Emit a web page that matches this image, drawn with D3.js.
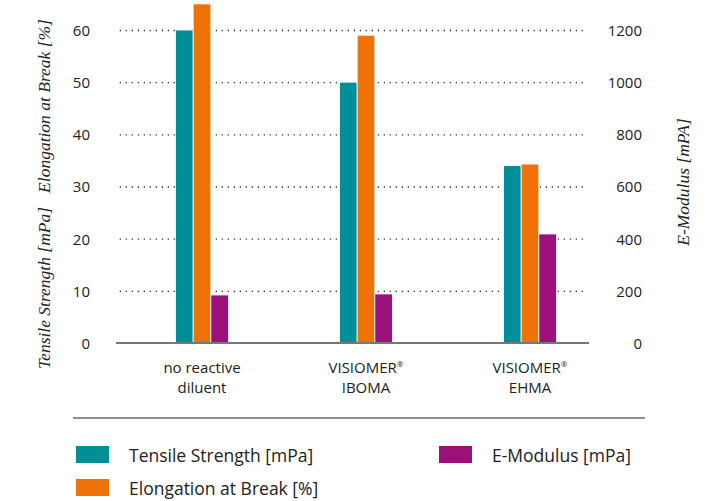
<!DOCTYPE html>
<html>
<head>
<meta charset="utf-8">
<script src="https://cdn.jsdelivr.net/npm/d3@7"></script>
<style>
  body { margin: 0; background: #fff; }
  svg { display: block; }
  .tick text { fill: #222; }
</style>
</head>
<body>
<div id="chart"></div>
<script>
// data
var categories = ["no reactive diluent", "VISIOMER IBOMA", "VISIOMER EHMA"]
var catLines = [["no reactive", "diluent"], ["VISIOMER®", "IBOMA"], ["VISIOMER®", "EHMA"]]
var tensile = [60, 50, 34]
var elongation = [65, 59, 34.3]
var eModulus = [184, 188, 418]
var leftTicks = [0, 10, 20, 30, 40, 50, 60]
var rightTicks = [0, 200, 400, 600, 800, 1000, 1200]

var seriesNames = ["Tensile Strength [mPa]", "Elongation at Break [%]", "E-Modulus [mPa]"]
var seriesColors = ["#008f99", "#ee7208", "#9b1179"]

var width = 710
var height = 501

var svg = d3.select('#chart').append('svg')
  .attr('width', width)
  .attr('height', height)

var sans = "'Open Sans', 'Noto Sans', sans-serif"
var serif = "'Liberation Serif', 'DejaVu Serif', serif"

var yLeft = d3.scaleLinear().domain([0, 60]).range([343, 30])
var yRight = d3.scaleLinear().domain([0, 1200]).range([343, 30])

var x0 = d3.scaleBand().domain(categories).range([120, 612])
var x1 = d3.scaleBand().domain([0, 1, 2]).range([0, 53])
var groupOffset = (x0.bandwidth() - 53) / 2

// dotted gridlines
svg.append('g')
  .attr('transform', 'translate(583,0)')
  .call(d3.axisLeft(yLeft).tickValues(leftTicks.slice(1)).tickSize(464).tickFormat(''))
  .call(g => g.select('.domain').remove())
  .selectAll('.tick line')
    .attr('stroke', '#333')
    .attr('stroke-width', 1.3)
    .attr('stroke-dasharray', '1.3,4.7')

// left ticks
svg.append('g')
  .attr('transform', 'translate(90,0)')
  .call(d3.axisLeft(yLeft).tickValues(leftTicks).tickSize(0).tickPadding(0).tickFormat(d3.format('d')))
  .call(g => g.select('.domain').remove())
  .selectAll('text')
    .style('font', '15px ' + sans)
    .attr('dy', '0.36em')

// right ticks
svg.append('g')
  .attr('transform', 'translate(642,0)')
  .call(d3.axisLeft(yRight).tickValues(rightTicks).tickSize(0).tickPadding(0).tickFormat(d3.format('d')))
  .call(g => g.select('.domain').remove())
  .selectAll('text')
    .style('font', '15px ' + sans)
    .attr('dy', '0.36em')

// bars
var rows = categories.map((c, i) => ({cat: c, vals: [
  {s: 0, v: tensile[i], y: yLeft},
  {s: 1, v: elongation[i], y: yLeft},
  {s: 2, v: eModulus[i], y: yRight}
]}))

var groups = svg.selectAll('.group')
  .data(rows)
  .enter().append('g')
  .attr('class', 'group')
  .attr('transform', d => 'translate(' + (x0(d.cat) + groupOffset) + ',0)')

groups.selectAll('rect')
  .data(d => d.vals)
  .enter().append('rect')
  .attr('x', d => x1(d.s))
  .attr('width', x1.bandwidth())
  .attr('y', d => d.y(d.v))
  .attr('height', d => d.y(0) - d.y(d.v))
  .attr('fill', d => seriesColors[d.s])
  .attr('stroke', '#fff')
  .attr('stroke-width', 0.8)

// baseline
svg.append('line')
  .attr('x1', 116).attr('x2', 589)
  .attr('y1', yLeft(0)).attr('y2', yLeft(0))
  .attr('stroke', '#777')
  .attr('stroke-width', 2)

// category labels
var labels = svg.selectAll('.cat')
  .data(categories)
  .enter().append('text')
  .attr('class', 'cat')
  .attr('text-anchor', 'middle')
  .style('font', '15px ' + sans)
  .attr('fill', '#222')

labels.each(function(d, i) {
  var t = d3.select(this)
  var cx = x0(d) + x0.bandwidth() / 2
  catLines[i].forEach((line, j) => {
    var ts = t.append('tspan').attr('x', cx).attr('y', 373 + j * 20)
    if (line.endsWith('®')) {
      ts.text(line.slice(0, -1))
      ts.append('tspan').text('®').style('font-size', '8px').attr('dy', '-6')
    } else {
      ts.text(line)
    }
  })
})

// axis titles
function vTitle(txt, x, y) {
  svg.append('text')
    .attr('transform', 'translate(' + x + ',' + y + ') rotate(-90)')
    .attr('text-anchor', 'middle')
    .style('font', 'italic 17.5px ' + serif)
    .attr('fill', '#222')
    .text(txt)
}
vTitle('Elongation at Break [%]', 50, 106)
vTitle('Tensile Strength [mPa]', 50, 288)
vTitle('E-Modulus [mPA]', 689, 182)

// legend separator
svg.append('line')
  .attr('x1', 73).attr('x2', 645)
  .attr('y1', 418).attr('y2', 418)
  .attr('stroke', '#222')
  .attr('stroke-width', 1)

var legendPos = [[76, 446], [76, 479], [439, 446]]
var legend = svg.selectAll('.legendItem')
  .data(seriesNames)
  .enter().append('g')
  .attr('class', 'legendItem')
  .attr('transform', (d, i) => 'translate(' + legendPos[i][0] + ',' + legendPos[i][1] + ')')

legend.append('rect')
  .attr('width', 33)
  .attr('height', 17)
  .attr('fill', (d, i) => seriesColors[i])

legend.append('text')
  .attr('x', 53)
  .attr('y', 16)
  .style('font', '17.5px ' + sans)
  .attr('fill', '#222')
  .text(d => d)
</script>
</body>
</html>
